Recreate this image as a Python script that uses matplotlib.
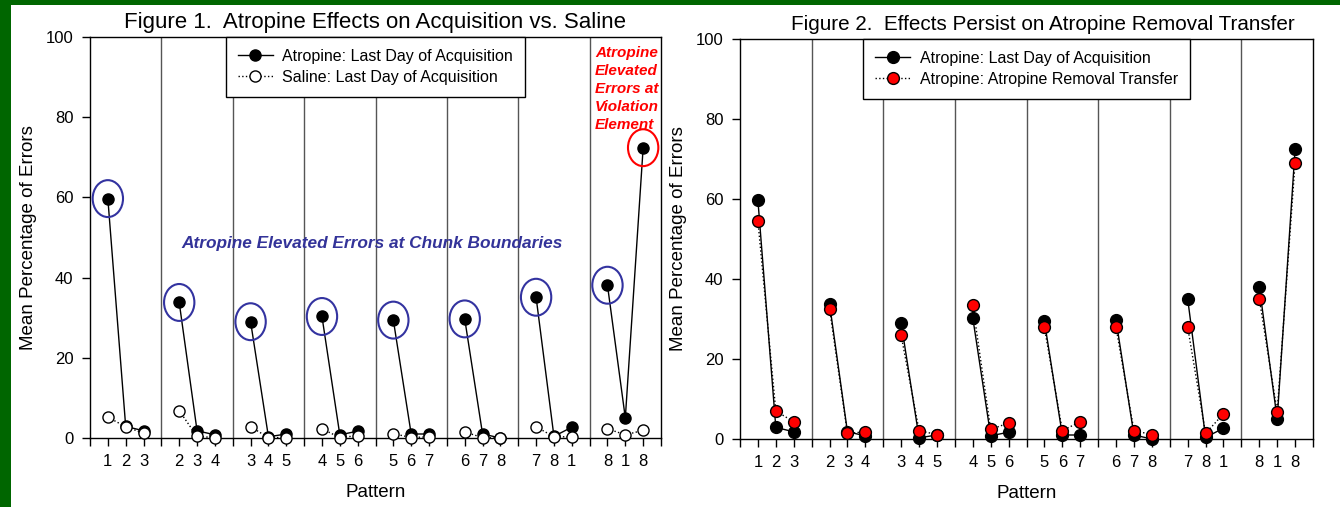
import numpy as np
import matplotlib
matplotlib.use("Agg")
import matplotlib.pyplot as plt
from matplotlib.patches import Ellipse, Rectangle

plt.rcParams["font.family"] = ["Liberation Sans Narrow", "Liberation Sans", "DejaVu Sans"]

# Data
groups = [[1, 2, 3], [2, 3, 4], [3, 4, 5], [4, 5, 6],
          [5, 6, 7], [6, 7, 8], [7, 8, 1], [8, 1, 8]]
atropine_acq = [59.7, 2.9, 1.8, 33.8, 1.8, 0.8, 29.0, 0.3, 1.0, 30.3, 0.8, 1.7,
                29.4, 1.0, 1.0, 29.7, 1.0, 0.0, 35.1, 0.4, 2.7, 38.1, 5.0, 72.4]
saline_acq = [5.2, 2.8, 1.2, 6.8, 0.4, 0.1, 2.8, 0.1, 0.1, 2.3, 0.1, 0.6,
              1.1, 0.1, 0.3, 1.5, 0.1, 0.0, 2.8, 0.3, 0.3, 2.3, 0.8, 1.9]
atropine_removal = [54.5, 7.0, 4.3, 32.6, 1.4, 1.8, 25.9, 2.1, 1.1, 33.4, 2.4, 4.0,
                    27.9, 2.1, 4.3, 27.9, 2.1, 1.1, 28.0, 1.4, 6.3, 35.1, 6.8, 69.1]

n_groups = len(groups)
slot = 4  # 3 points + separator per group


def segmented(values):
    # x positions and values with NaN gaps so each group is its own line
    xs, ys = [], []
    for g in range(n_groups):
        for k in range(3):
            xs.append(g * slot + k + 1)
            ys.append(values[g * 3 + k])
        xs.append(np.nan)
        ys.append(np.nan)
    return np.array(xs, dtype=float), np.array(ys, dtype=float)


def setup_axes(ax, title, title_size, title_x=0.5):
    ax.set_xlim(0, n_groups * slot)
    ax.set_ylim(0, 100)
    for g in range(1, n_groups):
        ax.axvline(g * slot, color="#555555", lw=1, zorder=1)
    ticks = list(range(0, n_groups * slot + 1))
    labels = [""] * len(ticks)
    for g, grp in enumerate(groups):
        for k, p in enumerate(grp):
            labels[g * slot + k + 1] = str(p)
    ax.set_xticks(ticks)
    ax.set_xticklabels(labels)
    ax.set_yticks([0, 20, 40, 60, 80, 100])
    ax.tick_params(axis="both", direction="out", length=6, width=1, labelsize=12)
    ax.tick_params(axis="x", pad=5.5)
    ax.tick_params(axis="y", pad=6)
    for s in ax.spines.values():
        s.set_linewidth(1)
    ax.set_xlabel("Pattern", fontsize=13.5, labelpad=11)
    ax.set_ylabel("Mean Percentage of Errors", fontsize=13.5, labelpad=6)
    ax.set_title(title, fontsize=title_size, pad=6.5, x=title_x)


def add_legend(ax):
    leg = ax.legend(loc="upper center", borderaxespad=0, fontsize=11.5, fancybox=False,
                    framealpha=1, edgecolor="black", borderpad=0.75, labelspacing=0.35,
                    handlelength=2.2, handletextpad=0.6)
    leg.get_frame().set_linewidth(1)
    leg.set_zorder(10)
    return leg


fig = plt.figure(figsize=(13.4, 5.07), dpi=100, facecolor="#006600")
fig.patches.append(Rectangle((11 / 1340, 0), 1, 1 - 5 / 507, transform=fig.transFigure,
                             facecolor="white", edgecolor="none", zorder=-10))

ax1 = fig.add_axes([90 / 1340, 1 - 438 / 507, 571 / 1340, 401 / 507])
ax2 = fig.add_axes([740 / 1340, 1 - 439 / 507, 573 / 1340, 400 / 507])

# Figure 1
setup_axes(ax1, "Figure 1.  Atropine Effects on Acquisition vs. Saline", 16)
x, y = segmented(atropine_acq)
ax1.plot(x, y, "-", color="black", lw=1, marker="o", ms=8, mfc="black", mec="black",
         label="Atropine: Last Day of Acquisition", zorder=3, clip_on=False)
x, y = segmented(saline_acq)
ax1.plot(x, y, ":", color="black", lw=1, marker="o", ms=8, mfc="white", mec="black",
         label="Saline: Last Day of Acquisition", zorder=4, clip_on=False)

# circles around the chunk-boundary points and the violation element
for g in range(n_groups):
    ax1.add_patch(Ellipse((g * slot + 1, atropine_acq[g * 3]), 1.7, 9.2, fill=False,
                          edgecolor="#3333A0", lw=1.5, zorder=5))
ax1.add_patch(Ellipse(((n_groups - 1) * slot + 3, atropine_acq[-1]), 1.7, 9.2, fill=False,
                      edgecolor="red", lw=1.5, zorder=5))
ax1.text(15.8, 48.6, "Atropine Elevated Errors at Chunk Boundaries", color="#333399",
         fontsize=12.4, fontweight="bold", fontstyle="italic", ha="center", va="center")
ax1.text(28.3, 97.8, "Atropine\nElevated\nErrors at\nViolation\nElement", color="red",
         fontsize=11, fontweight="bold", fontstyle="italic", ha="left", va="top",
         linespacing=1.36)

add_legend(ax1)

# Figure 2
setup_axes(ax2, "Figure 2.  Effects Persist on Atropine Removal Transfer", 14.9, 0.529)
x, y = segmented(atropine_acq)
ax2.plot(x, y, "-", color="black", lw=1, marker="o", ms=8.5, mfc="black", mec="black",
         label="Atropine: Last Day of Acquisition", zorder=3, clip_on=False)
x, y = segmented(atropine_removal)
ax2.plot(x, y, ":", color="black", lw=1, marker="o", ms=8.5, mfc="red", mec="black",
         label="Atropine: Atropine Removal Transfer", zorder=4, clip_on=False)

add_legend(ax2)

fig.savefig("out.png", dpi=100, facecolor=fig.get_facecolor())
